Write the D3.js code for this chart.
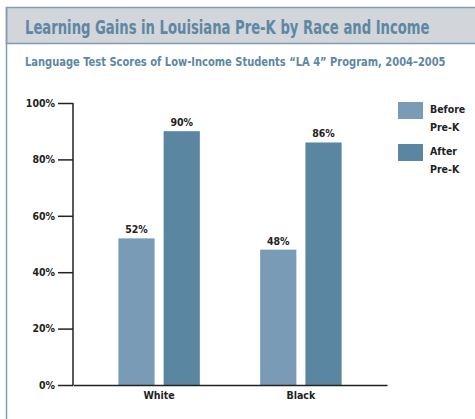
<!DOCTYPE html>
<html>
<head>
<meta charset="utf-8">
<script src="https://cdn.jsdelivr.net/npm/d3@7"></script>
<style>
  body { margin: 0; background: #fff; }
  svg { display: block; }
  text { font-family: "DejaVu Sans Condensed", "Liberation Sans Narrow", sans-serif; }
</style>
</head>
<body>
<svg id="chart"></svg>
<script>
const groups = ["White", "Black"];
const seriesNames = ["Before Pre-K", "After Pre-K"];
const beforeValues = [52, 48];
const afterValues = [90, 86];
const yTicks = [0, 20, 40, 60, 80, 100];

const W = 475, H = 419;
const colors = ["#7a9bb6", "#5a86a2"];

const svg = d3.select("#chart").attr("width", W).attr("height", H);

// header frame
svg.append("rect")
    .attr("x", 6.5).attr("y", 7.5)
    .attr("width", W).attr("height", 36)
    .attr("fill", "#d2d5d9")
    .attr("stroke", "#7f9db3").attr("stroke-width", 1.5);
svg.append("line")
    .attr("x1", 6.5).attr("x2", 6.5).attr("y1", 7).attr("y2", H)
    .attr("stroke", "#7f9db3").attr("stroke-width", 1.5);

// squeeze a text horizontally so it spans the wanted width (keeps glyph height)
function fitText(sel, x, y, width) {
    const len = sel.node().getComputedTextLength();
    sel.attr("transform", `translate(${x},${y}) scale(${(width / len).toFixed(4)},1)`);
}

const title = svg.append("text")
    .style("font-size", "20px").style("font-weight", "bold")
    .attr("fill", "#5e87a3")
    .text("Learning Gains in Louisiana Pre-K by Race and Income");
fitText(title, 25, 34, 405);

const subtitle = svg.append("text")
    .style("font-size", "12.5px").style("font-weight", "bold")
    .attr("fill", "#5e87a3")
    .text("Language Test Scores of Low-Income Students \u201CLA 4\u201D Program, 2004\u20132005");
fitText(subtitle, 25, 66, 421);

// plot
const plot = { left: 73, right: 387, top: 103, bottom: 385 };

const y = d3.scaleLinear().domain([0, 100]).range([plot.bottom, plot.top]);
const x0 = d3.scaleBand().domain(groups).range([plot.left, plot.right])
    .paddingInner(0.4255).paddingOuter(0.32).align(0.5);
const x1 = d3.scaleBand().domain(seriesNames).range([0, x0.bandwidth()]).paddingInner(0.2);

const data = groups.map((g, i) => ({ group: g, values: [beforeValues[i], afterValues[i]] }));

const gGroup = svg.selectAll("g.grp")
    .data(data)
    .enter().append("g")
    .attr("class", "grp")
    .attr("transform", d => `translate(${x0(d.group)},0)`);

gGroup.selectAll("rect")
    .data(d => d.values.map((v, j) => ({ key: seriesNames[j], value: v, j })))
    .enter().append("rect")
    .attr("x", d => x1(d.key))
    .attr("y", d => y(d.value))
    .attr("width", x1.bandwidth())
    .attr("height", d => plot.bottom - y(d.value))
    .attr("fill", d => colors[d.j]);

gGroup.selectAll("text.val")
    .data(d => d.values.map((v, j) => ({ key: seriesNames[j], value: v })))
    .enter().append("text")
    .attr("class", "val")
    .attr("x", d => x1(d.key) + x1.bandwidth() / 2)
    .attr("y", d => y(d.value) - 5)
    .attr("text-anchor", "middle")
    .style("font-size", "10.5px").style("font-weight", "bold")
    .attr("fill", "#222")
    .text(d => d.value + "%");

// axes
const yAxis = svg.append("g")
    .attr("transform", `translate(${plot.left},0)`)
    .call(d3.axisLeft(y).tickValues(yTicks).tickSize(15).tickPadding(3).tickFormat(d => d + "%"));
yAxis.select(".domain").attr("stroke", "#222").attr("stroke-width", 1.5).attr("d", `M0,${plot.top}V${plot.bottom}`);
yAxis.selectAll(".tick line").attr("stroke", "#222").attr("stroke-width", 1.5);
yAxis.selectAll("text").style("font-size", "10.5px").style("font-weight", "bold").attr("fill", "#222");

const xAxis = svg.append("g")
    .attr("transform", `translate(0,${plot.bottom})`)
    .call(d3.axisBottom(x0).tickSize(0).tickPadding(7));
xAxis.select(".domain").attr("stroke", "#222").attr("stroke-width", 1.5);
xAxis.selectAll("text").style("font-size", "10.5px").style("font-weight", "bold").attr("fill", "#222");

// legend
const legend = svg.append("g").attr("transform", "translate(398,102)");
const items = legend.selectAll("g")
    .data(seriesNames)
    .enter().append("g")
    .attr("transform", (d, i) => `translate(0,${i * 42})`);
items.append("rect")
    .attr("width", 25).attr("height", 17)
    .attr("fill", (d, i) => colors[i]);
items.append("text")
    .attr("x", 32).attr("y", 11)
    .style("font-size", "10.5px").style("font-weight", "bold").attr("fill", "#222")
    .selectAll("tspan")
    .data(d => [d.split(" ")[0], d.split(" ").slice(1).join(" ")])
    .enter().append("tspan")
    .attr("x", 32)
    .attr("dy", (d, i) => i === 0 ? 0 : 18)
    .text(d => d);
</script>
</body>
</html>
